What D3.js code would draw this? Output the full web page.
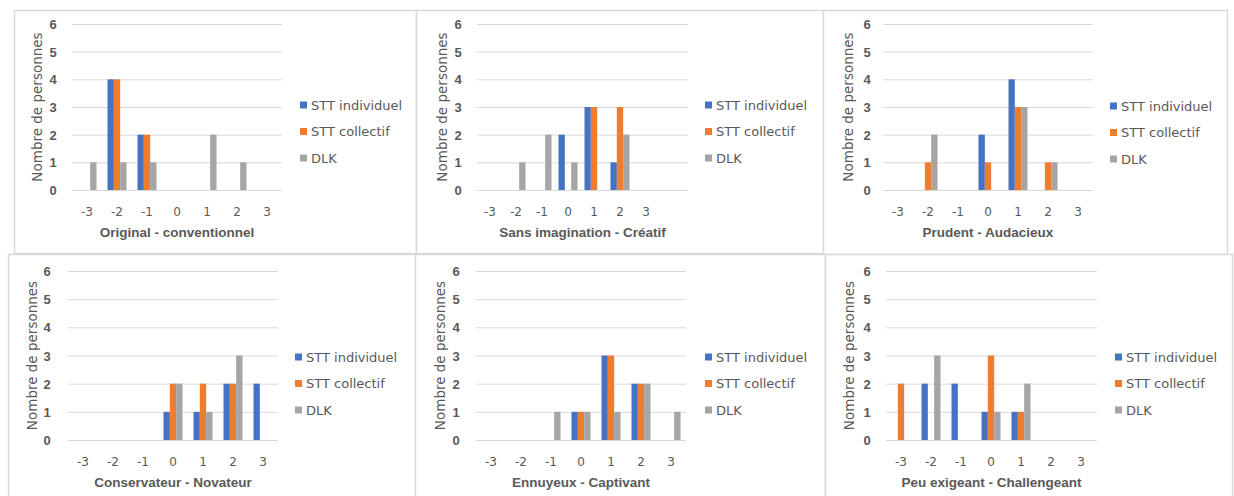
<!DOCTYPE html>
<html>
<head>
<meta charset="utf-8">
<script src="https://cdn.jsdelivr.net/npm/d3@7"></script>
<style>
    body { margin: 0; background: #fff; }
    svg { display: block; }
    text { font-family: "DejaVu Sans", sans-serif; fill: #595959; }
</style>
</head>
<body>
<script>
// chart data
var categories = ["-3", "-2", "-1", "0", "1", "2", "3"];
var seriesNames = ["STT individuel", "STT collectif", "DLK"];
var seriesColors = ["#4472C4", "#ED7D31", "#A5A5A5"];
var yTicks = [0, 1, 2, 3, 4, 5, 6];
var yTitle = "Nombre de personnes";
var panelTitles = [
    "Original  - conventionnel",
    "Sans imagination  - Créatif",
    "Prudent - Audacieux",
    "Conservateur  - Novateur",
    "Ennuyeux - Captivant",
    "Peu exigeant - Challengeant"
];
var sttIndividuel = [
    [0, 4, 2, 0, 0, 0, 0],
    [0, 0, 0, 2, 3, 1, 0],
    [0, 0, 0, 2, 4, 0, 0],
    [0, 0, 0, 1, 1, 2, 2],
    [0, 0, 0, 1, 3, 2, 0],
    [0, 2, 2, 1, 1, 0, 0]
];
var sttCollectif = [
    [0, 4, 2, 0, 0, 0, 0],
    [0, 0, 0, 0, 3, 3, 0],
    [0, 1, 0, 1, 3, 1, 0],
    [0, 0, 0, 2, 2, 2, 0],
    [0, 0, 0, 1, 3, 2, 0],
    [2, 0, 0, 3, 1, 0, 0]
];
var dlk = [
    [1, 1, 1, 0, 2, 1, 0],
    [0, 1, 2, 1, 0, 2, 0],
    [0, 2, 0, 0, 3, 1, 0],
    [0, 0, 0, 2, 1, 3, 0],
    [0, 0, 1, 1, 1, 2, 1],
    [0, 3, 0, 1, 2, 0, 0]
];

// panel frames and plot positions (pixels)
var frames = [
    {x: 14, y: 10, w: 402, h: 243},
    {x: 416, y: 10, w: 407, h: 243},
    {x: 823, y: 10, w: 404, h: 244},
    {x: 8, y: 254, w: 407, h: 250},
    {x: 415, y: 254, w: 410, h: 250},
    {x: 825, y: 254, w: 407, h: 250}
];
var plots = [
    {gx0: 72, gx1: 282, step: 30, top: 24, bottom: 190, tickX: 53, titleX: 37, legX: 300, legY: 105, catY: 212, axTitleY: 237},
    {gx0: 477, gx1: 688, step: 26, top: 24, bottom: 190, tickX: 458, titleX: 442, legX: 705, legY: 105, catY: 212, axTitleY: 237},
    {gx0: 883, gx1: 1093, step: 30, top: 24, bottom: 190, tickX: 867, titleX: 848, legX: 1110, legY: 106, catY: 212, axTitleY: 237},
    {gx0: 68, gx1: 278, step: 30, top: 271, bottom: 440, tickX: 47, titleX: 32, legX: 295, legY: 357, catY: 462, axTitleY: 487},
    {gx0: 476, gx1: 686, step: 30, top: 271, bottom: 440, tickX: 456, titleX: 440, legX: 705, legY: 357, catY: 462, axTitleY: 487},
    {gx0: 886, gx1: 1097, step: 30, top: 271, bottom: 440, tickX: 867, titleX: 849, legX: 1115, legY: 357, catY: 462, axTitleY: 487}
];
var groupWidth = 19;

var svg = d3.select("body").append("svg")
    .attr("width", 1234)
    .attr("height", 496);

var drawPanel = function (i) {
    var f = frames[i];
    var p = plots[i];
    var values = [sttIndividuel[i], sttCollectif[i], dlk[i]];

    svg.append("rect")
        .attr("x", f.x + 0.5)
        .attr("y", f.y + 0.5)
        .attr("width", f.w)
        .attr("height", f.h)
        .style("fill", "#fff")
        .style("stroke", "#D9D9D9")
        .style("stroke-width", 1.5);

    var pad = 1 - groupWidth / p.step;
    var x = d3.scaleBand()
        .domain(categories)
        .range([p.gx0, p.gx0 + categories.length * p.step])
        .paddingInner(pad)
        .paddingOuter(pad / 2);
    var xs = d3.scaleBand()
        .domain(seriesNames)
        .range([0, x.bandwidth()]);
    var y = d3.scaleLinear()
        .domain([0, 6])
        .range([p.bottom, p.top]);

    // gridlines + tick labels
    var yAxis = svg.append("g")
        .attr("transform", "translate(" + p.gx0 + ",0)")
        .call(d3.axisLeft(y).tickValues(yTicks).tickSize(-(p.gx1 - p.gx0)).tickFormat(d3.format("d")));
    yAxis.select(".domain").remove();
    yAxis.selectAll("line")
        .style("stroke", "#D9D9D9")
        .style("stroke-width", 1);
    yAxis.selectAll("text")
        .attr("x", p.tickX - p.gx0)
        .attr("dy", "0.35em")
        .style("text-anchor", "middle")
        .style("font-family", "'Liberation Sans', sans-serif")
        .style("font-weight", "bold")
        .style("font-size", "13px")
        .style("fill", "#595959");

    // category labels
    var xAxis = svg.append("g")
        .attr("transform", "translate(0," + p.catY + ")")
        .call(d3.axisBottom(x).tickSize(0).tickPadding(0));
    xAxis.select(".domain").remove();
    xAxis.selectAll("text")
        .attr("y", 0)
        .attr("dy", "0.35em")
        .style("font-family", "'DejaVu Sans', sans-serif")
        .style("font-size", "12px")
        .style("fill", "#595959");

    // bars
    seriesNames.forEach(function (name, s) {
        svg.append("g")
            .selectAll("rect")
            .data(values[s].map(function (v, k) { return {cat: categories[k], v: v}; })
                .filter(function (d) { return d.v > 0; }))
            .enter().append("rect")
            .attr("x", function (d) { return x(d.cat) + xs(name); })
            .attr("y", function (d) { return y(d.v); })
            .attr("width", xs.bandwidth())
            .attr("height", function (d) { return y(0) - y(d.v); })
            .style("fill", seriesColors[s]);
    });

    // axis titles
    svg.append("text")
        .attr("x", (p.gx0 + p.gx1) / 2)
        .attr("y", p.axTitleY)
        .style("text-anchor", "middle")
        .style("font-family", "'Liberation Sans', sans-serif")
        .style("font-weight", "bold")
        .style("font-size", "13.5px")
        .style("fill", "#595959")
        .text(panelTitles[i]);

    svg.append("text")
        .attr("transform", "translate(" + p.titleX + "," + ((p.top + p.bottom) / 2) + ") rotate(-90)")
        .attr("dy", "0.35em")
        .style("text-anchor", "middle")
        .style("font-size", "13.5px")
        .style("fill", "#595959")
        .text(yTitle);

    // legend
    var leg = svg.append("g")
        .attr("transform", "translate(" + p.legX + "," + p.legY + ")");
    seriesNames.forEach(function (name, s) {
        leg.append("rect")
            .attr("x", 0)
            .attr("y", s * 26.5 - 3.5)
            .attr("width", 7)
            .attr("height", 7)
            .style("fill", seriesColors[s]);
        leg.append("text")
            .attr("x", 11)
            .attr("y", s * 26.5)
            .attr("dy", "0.35em")
            .style("font-size", "13px")
            .style("fill", "#595959")
            .text(name);
    });
};

for (var i = 0; i < 6; i++) {
    drawPanel(i);
}
</script>
</body>
</html>
